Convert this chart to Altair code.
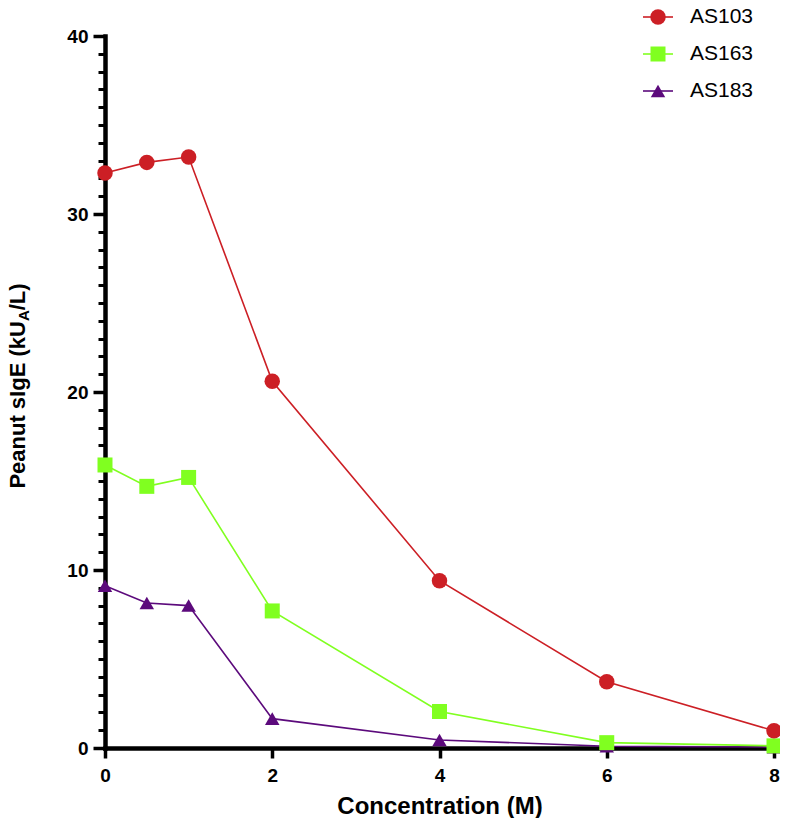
import altair as alt
import pandas as pd

# ---- data ----
concentration = [0, 0.5, 1, 2, 4, 6, 8]
series_names = ["AS103", "AS163", "AS183"]
as103 = [32.3, 32.9, 33.2, 20.6, 9.4, 3.72, 0.97]
as163 = [15.9, 14.7, 15.2, 7.7, 2.05, 0.3, 0.12]
as183 = [9.12, 8.15, 8.0, 1.65, 0.45, 0.1, 0.05]
x_ticks = [0, 2, 4, 6, 8]
y_ticks = [0, 10, 20, 30, 40]
y_minor = list(range(0, 41))
colors = ["#CC1F25", "#80FF20", "#5C0A7C"]
shapes = ["circle", "square", "triangle-up"]
sizes = [240, 210, 310]

FONT = "Liberation Sans"

rows = []
for name, vals in [("AS183", as183), ("AS163", as163), ("AS103", as103)]:
    for c, v in zip(concentration, vals):
        rows.append({"conc": c, "value": v, "series": name})
df = pd.DataFrame(rows)

x_enc = alt.X(
    "conc:Q",
    scale=alt.Scale(domain=[0, 8], nice=False, zero=False),
    axis=alt.Axis(values=x_ticks, title="Concentration (M)", tickSize=10,
                  tickWidth=3.5, domainWidth=4.5, labelPadding=8,
                  titlePadding=9, titleFontSize=24, labelFlush=False, grid=False),
)
y_scale = alt.Scale(domain=[0, 40], nice=False, zero=True)
color_enc = alt.Color("series:N", scale=alt.Scale(domain=series_names, range=colors), legend=None)
shape_enc = alt.Shape("series:N", scale=alt.Scale(domain=series_names, range=shapes), legend=None)
size_enc = alt.Size("series:N", scale=alt.Scale(domain=series_names, range=sizes), legend=None)

lines = alt.Chart(df).mark_line(strokeWidth=1.6).encode(
    x=x_enc,
    y=alt.Y("value:Q", scale=y_scale,
            axis=alt.Axis(values=y_ticks, title=None, orient="left", tickSize=12,
                          tickWidth=3.5, domainWidth=4.5, labelPadding=5, grid=False)),
    color=color_enc,
)

points = alt.Chart(df).mark_point(filled=True, opacity=1, strokeWidth=0).encode(
    x=x_enc,
    y=alt.Y("value:Q", scale=y_scale, axis=None),
    color=color_enc,
    shape=shape_enc,
    size=size_enc,
)

minor = alt.Chart(pd.DataFrame({"v": y_minor})).mark_point(opacity=0).encode(
    x=alt.value(0),
    y=alt.Y("v:Q", scale=y_scale,
            axis=alt.Axis(values=y_minor, orient="left", labels=False, domain=False,
                          tickSize=7, tickWidth=3, title=None, grid=False)),
)

# ---- legend (manual, line + marker) ----
legend_df = pd.DataFrame({"series": series_names, "i": [0, 1, 2]})
leg_base = alt.Chart(legend_df).transform_calculate(ly="datum.i * 37 - 19")
leg_y = alt.Y("ly:Q", scale=None, axis=None)
leg_rule = leg_base.mark_rule(strokeWidth=1.6).encode(
    x=alt.value(538), x2=alt.value(568), y=leg_y, color=color_enc)
leg_pts = leg_base.mark_point(filled=True, opacity=1, strokeWidth=0).encode(
    x=alt.value(553), y=leg_y, color=color_enc, shape=shape_enc, size=size_enc)
leg_txt = leg_base.mark_text(align="left", baseline="middle", fontSize=21,
                             font=FONT, color="black").encode(
    x=alt.value(585), y=leg_y, text="series:N")

# ---- y-axis title with subscript ----
def title_part(txt, size, xpos, ypos):
    return alt.Chart(pd.DataFrame({"t": [txt]})).mark_text(
        angle=270, align="left", baseline="middle", fontSize=size,
        fontWeight="bold", font=FONT, color="black",
    ).encode(x=alt.value(xpos), y=alt.value(ypos), text="t:N")

T = 22
S = 15
y0 = 350 + (7.613 * T + 0.722 * S + 1.222 * T) / 2
y1 = y0 - 7.613 * T
y2 = y1 - 0.722 * S
t1 = title_part("Peanut sIgE (kU", T, -87, y0)
t2 = title_part("A", S, -81, y1)
t3 = title_part("/L)", T, -87, y2)

chart = alt.layer(
    minor, lines, points, leg_rule, leg_pts, leg_txt, t1, t2, t3
).resolve_scale(y="independent").resolve_axis(y="independent").properties(
    width=669, height=712,
    autosize=alt.AutoSizeParams(type="none"),
    padding={"left": 97, "top": 28, "right": 6, "bottom": 70},
).configure_view(stroke=None).configure_axis(
    labelFont=FONT, labelFontSize=19, labelFontWeight="bold", labelColor="black",
    titleFont=FONT, titleFontSize=22, titleFontWeight="bold", titleColor="black",
    domainColor="black", tickColor="black", domainCap="square",
)

chart.save("out.html", embed_options={"renderer": "svg", "actions": False})
